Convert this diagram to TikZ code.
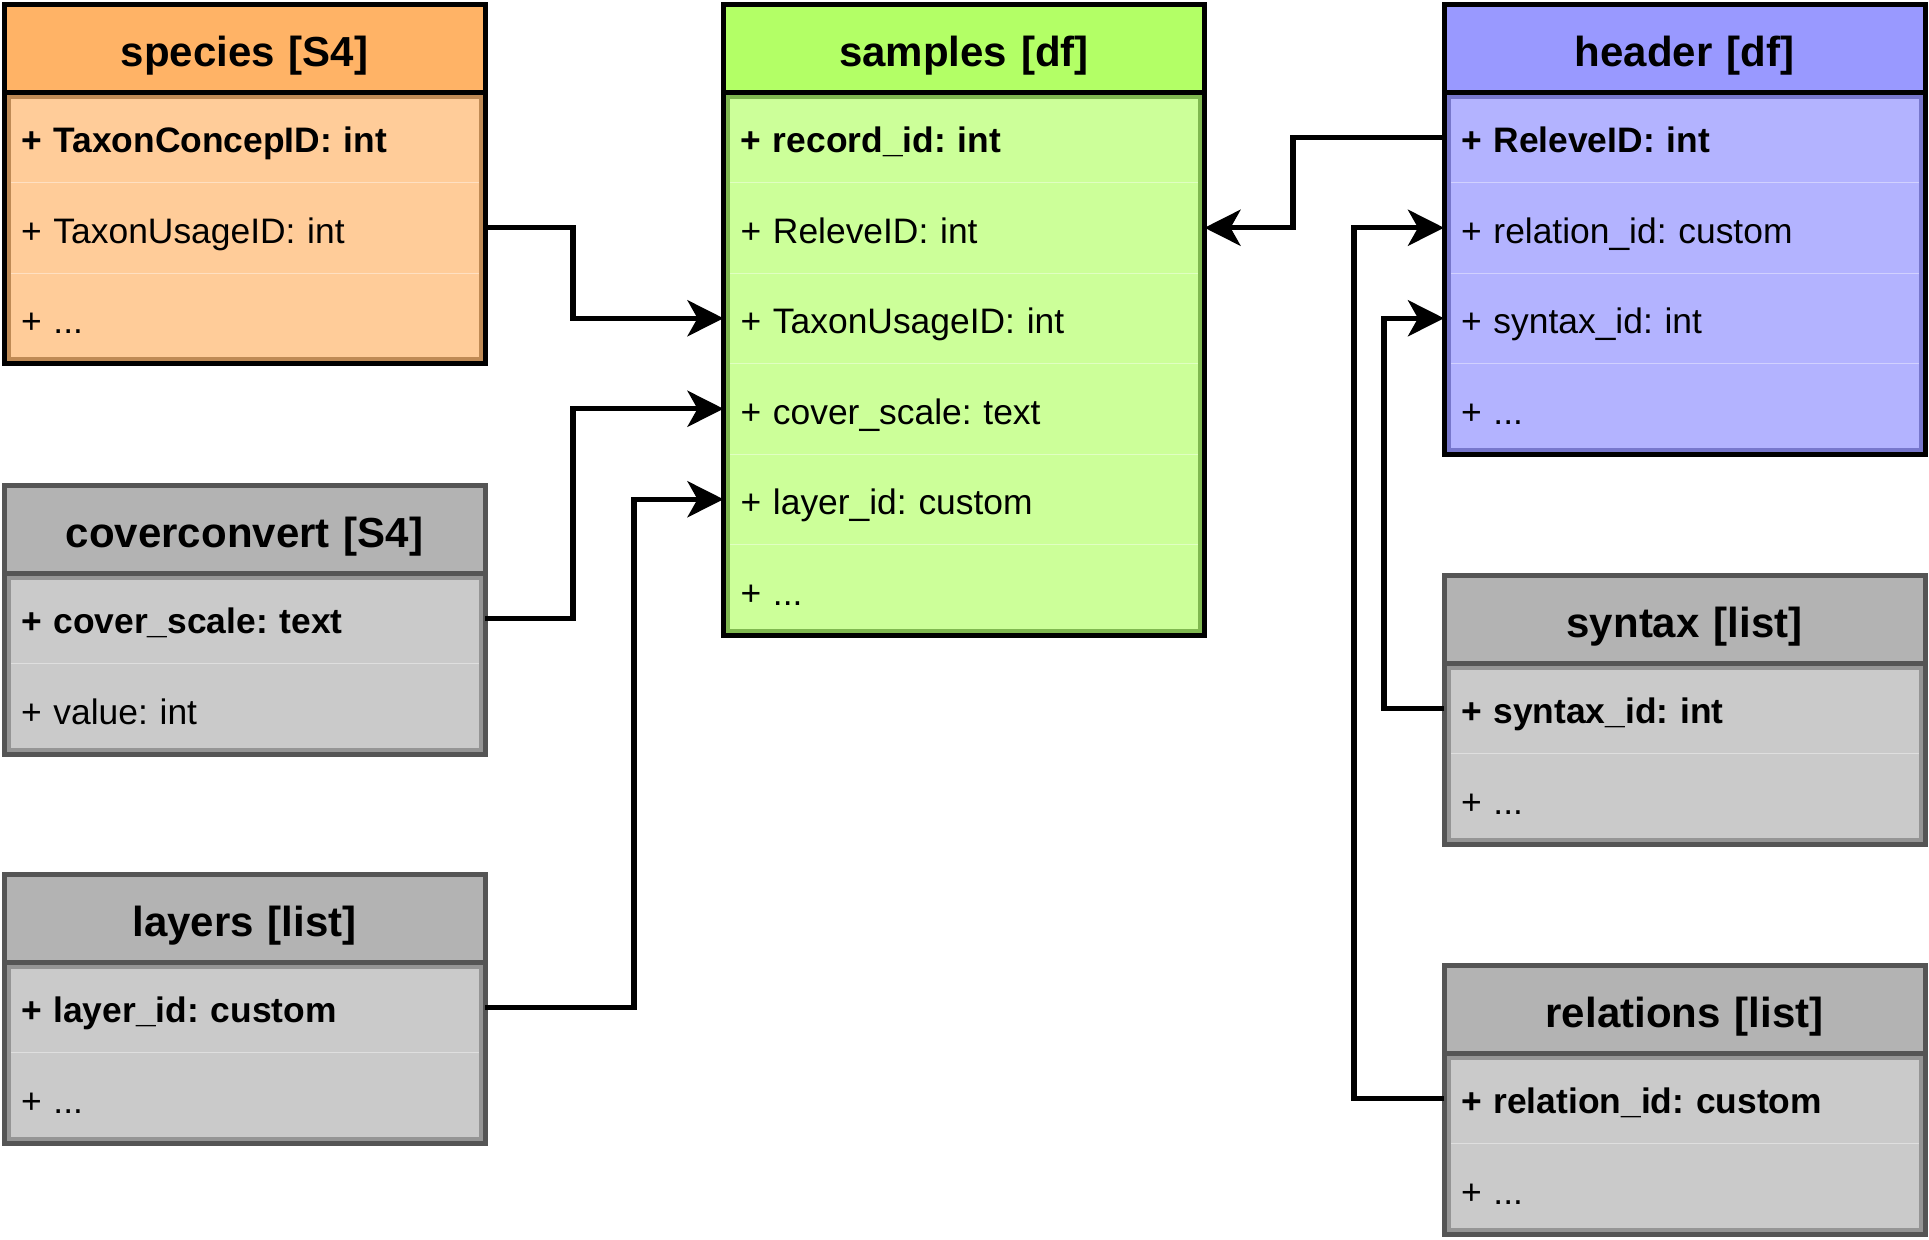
\documentclass[tikz,border=0pt]{standalone}
\usepackage{fontspec}
\setmainfont{Liberation Sans}
\usetikzlibrary{positioning,arrows.meta}
\frenchspacing

\definecolor{orangehead}{HTML}{FFB366}
\definecolor{orangebody}{HTML}{FFCC99}
\definecolor{orangeedge}{HTML}{BF8A55}
\definecolor{greenhead}{HTML}{B3FF66}
\definecolor{greenbody}{HTML}{CCFF99}
\definecolor{greenedge}{HTML}{80B850}
\definecolor{bluehead}{HTML}{9999FF}
\definecolor{bluebody}{HTML}{B3B3FF}
\definecolor{blueedge}{HTML}{7777CC}
\definecolor{grayhead}{HTML}{B3B3B3}
\definecolor{graybody}{HTML}{CACACA}
\definecolor{grayedge}{HTML}{959595}
\definecolor{grayline}{HTML}{555555}

\tikzset{
	tablehead/.style={
		anchor=north west,
		minimum height=44pt,
		text width=223.5pt,
		inner xsep=8.5pt,
		outer sep=0pt,
		align=center,
		text height=18pt,
		text depth=0pt,
		font=\bfseries\fontsize{21}{25}\selectfont
	},
	tablerow/.style={
		minimum height=45.25pt,
		text width=223.5pt,
		inner xsep=8.5pt,
		outer sep=0pt,
		align=left,
		text height=15.5pt,
		text depth=0pt,
		line width=0.5pt,
		font=\fontsize{17.7}{21}\selectfont
	},
	keyrow/.style={tablerow, font=\bfseries\fontsize{17.7}{21}\selectfont},
	bodyline/.style={line width=2pt},
	boxline/.style={line width=2.5pt},
	link/.style={line width=2.7pt, -{Stealth[length=18pt, width=18pt, inset=5pt]}}
}

\begin{document}
\begin{tikzpicture}[x=0.5pt, y=-0.5pt]

\fill [white] (0,0) rectangle (1929,1239);
\useasboundingbox (0,0) rectangle (1929,1239);

% Species
\node [tablehead, fill=orangehead] (species_head) at (4,4) {species [S4]};
\node [keyrow, fill=orangebody, draw=orangebody!60!white, below=0pt of species_head] (species_1) {+ TaxonConcepID: int};
\node [tablerow, fill=orangebody, draw=orangebody!60!white, below=0pt of species_1] (species_2) {+ TaxonUsageID: int};
\node [tablerow, fill=orangebody, draw=orangebody!60!white, below=0pt of species_2] (species_3) {+ ...};
\draw [bodyline, orangeedge] ([xshift=2.25pt, yshift=-2.25pt]species_1.north west) rectangle ([xshift=-2.25pt, yshift=2.25pt]species_3.south east);
\draw [boxline] (species_head.north west) rectangle (species_3.south east);
\draw [boxline] (species_head.south west) -- (species_head.south east);

% Cover conversion
\node [tablehead, fill=grayhead] (coverconvert_head) at (4,485) {coverconvert [S4]};
\node [keyrow, fill=graybody, draw=graybody!60!white, below=0pt of coverconvert_head] (coverconvert_1) {+ cover\_scale: text};
\node [tablerow, fill=graybody, draw=graybody!60!white, below=0pt of coverconvert_1] (coverconvert_2) {+ value: int};
\draw [bodyline, grayedge] ([xshift=2.25pt, yshift=-2.25pt]coverconvert_1.north west) rectangle ([xshift=-2.25pt, yshift=2.25pt]coverconvert_2.south east);
\draw [boxline, grayline] (coverconvert_head.north west) rectangle (coverconvert_2.south east);
\draw [boxline, grayline] (coverconvert_head.south west) -- (coverconvert_head.south east);

% Layers
\node [tablehead, fill=grayhead] (layers_head) at (4,874) {layers [list]};
\node [keyrow, fill=graybody, draw=graybody!60!white, below=0pt of layers_head] (layers_1) {+ layer\_id: custom};
\node [tablerow, fill=graybody, draw=graybody!60!white, below=0pt of layers_1] (layers_2) {+ ...};
\draw [bodyline, grayedge] ([xshift=2.25pt, yshift=-2.25pt]layers_1.north west) rectangle ([xshift=-2.25pt, yshift=2.25pt]layers_2.south east);
\draw [boxline, grayline] (layers_head.north west) rectangle (layers_2.south east);
\draw [boxline, grayline] (layers_head.south west) -- (layers_head.south east);

% Samples
\node [tablehead, fill=greenhead] (samples_head) at (723.5,4) {samples [df]};
\node [keyrow, fill=greenbody, draw=greenbody!60!white, below=0pt of samples_head] (samples_1) {+ record\_id: int};
\node [tablerow, fill=greenbody, draw=greenbody!60!white, below=0pt of samples_1] (samples_2) {+ ReleveID: int};
\node [tablerow, fill=greenbody, draw=greenbody!60!white, below=0pt of samples_2] (samples_3) {+ TaxonUsageID: int};
\node [tablerow, fill=greenbody, draw=greenbody!60!white, below=0pt of samples_3] (samples_4) {+ cover\_scale: text};
\node [tablerow, fill=greenbody, draw=greenbody!60!white, below=0pt of samples_4] (samples_5) {+ layer\_id: custom};
\node [tablerow, fill=greenbody, draw=greenbody!60!white, below=0pt of samples_5] (samples_6) {+ ...};
\draw [bodyline, greenedge] ([xshift=2.25pt, yshift=-2.25pt]samples_1.north west) rectangle ([xshift=-2.25pt, yshift=2.25pt]samples_6.south east);
\draw [boxline] (samples_head.north west) rectangle (samples_6.south east);
\draw [boxline] (samples_head.south west) -- (samples_head.south east);

% Header
\node [tablehead, fill=bluehead] (header_head) at (1444,4) {header [df]};
\node [keyrow, fill=bluebody, draw=bluebody!60!white, below=0pt of header_head] (header_1) {+ ReleveID: int};
\node [tablerow, fill=bluebody, draw=bluebody!60!white, below=0pt of header_1] (header_2) {+ relation\_id: custom};
\node [tablerow, fill=bluebody, draw=bluebody!60!white, below=0pt of header_2] (header_3) {+ syntax\_id: int};
\node [tablerow, fill=bluebody, draw=bluebody!60!white, below=0pt of header_3] (header_4) {+ ...};
\draw [bodyline, blueedge] ([xshift=2.25pt, yshift=-2.25pt]header_1.north west) rectangle ([xshift=-2.25pt, yshift=2.25pt]header_4.south east);
\draw [boxline] (header_head.north west) rectangle (header_4.south east);
\draw [boxline] (header_head.south west) -- (header_head.south east);

% Syntax
\node [tablehead, fill=grayhead] (syntax_head) at (1444,575) {syntax [list]};
\node [keyrow, fill=graybody, draw=graybody!60!white, below=0pt of syntax_head] (syntax_1) {+ syntax\_id: int};
\node [tablerow, fill=graybody, draw=graybody!60!white, below=0pt of syntax_1] (syntax_2) {+ ...};
\draw [bodyline, grayedge] ([xshift=2.25pt, yshift=-2.25pt]syntax_1.north west) rectangle ([xshift=-2.25pt, yshift=2.25pt]syntax_2.south east);
\draw [boxline, grayline] (syntax_head.north west) rectangle (syntax_2.south east);
\draw [boxline, grayline] (syntax_head.south west) -- (syntax_head.south east);

% Relations
\node [tablehead, fill=grayhead] (relations_head) at (1444,965) {relations [list]};
\node [keyrow, fill=graybody, draw=graybody!60!white, below=0pt of relations_head] (relations_1) {+ relation\_id: custom};
\node [tablerow, fill=graybody, draw=graybody!60!white, below=0pt of relations_1] (relations_2) {+ ...};
\draw [bodyline, grayedge] ([xshift=2.25pt, yshift=-2.25pt]relations_1.north west) rectangle ([xshift=-2.25pt, yshift=2.25pt]relations_2.south east);
\draw [boxline, grayline] (relations_head.north west) rectangle (relations_2.south east);
\draw [boxline, grayline] (relations_head.south west) -- (relations_head.south east);

% Links
\draw [link] (species_2.east) -- ++(88,0) |- (samples_3.west);
\draw [link] (coverconvert_1.east) -- ++(88,0) |- (samples_4.west);
\draw [link] (layers_1.east) -- ++(149,0) |- (samples_5.west);
\draw [link] (header_1.west) -- ++(-151,0) |- (samples_2.east);
\draw [link] (relations_1.west) -- ++(-90,0) |- (header_2.west);
\draw [link] (syntax_1.west) -- ++(-60,0) |- (header_3.west);

\end{tikzpicture}
\end{document}
